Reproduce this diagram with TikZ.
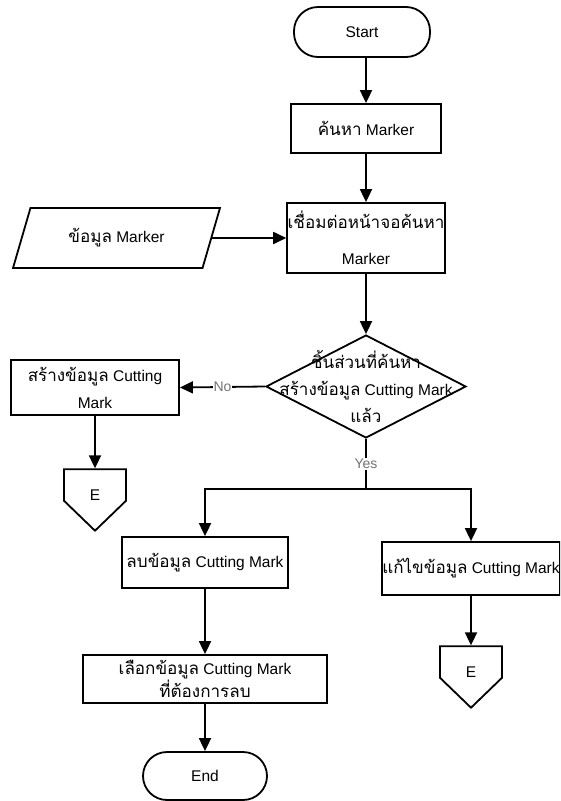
\documentclass[tikz,border=0pt]{standalone}
\usepackage{fontspec}
\setmainfont{Liberation Sans}
\newfontfamily\thaifont[Script=Thai,Scale=1.1]{Loma}
\usetikzlibrary{arrows.meta,shapes.geometric,shapes.symbols}
\definecolor{LabelClr}{gray}{0.45}
\newcommand{\tha}[1]{{\thaifont #1}}

\begin{document}
\begin{tikzpicture}[x=1pt,y=-1pt,line width=1.8pt,
  shapebase/.style={draw=black,fill=white,align=center,inner sep=0.5pt,
    font=\fontsize{15.5}{27}\selectfont},
  termbox/.style={shapebase,rectangle,rounded corners=24pt},
  procbox/.style={shapebase,rectangle},
  databox/.style={shapebase,trapezium,trapezium stretches=true,
    trapezium left angle=63.43,trapezium right angle=116.57},
  decbox/.style={shapebase,diamond,inner sep=0pt},
  offpage/.style={shapebase,signal,signal to=south,signal from=nowhere,
    signal pointer angle=92,minimum width=62pt,minimum height=32pt,
    label={[yshift=-10pt,font=\fontsize{15.5}{18}\selectfont]center:E}},
  flow/.style={-{Triangle[length=13pt,width=12pt]}},
  answer/.style={fill=white,text=LabelClr,inner sep=1pt,
    font=\fontsize{14}{16}\selectfont}]
\path[use as bounding box,clip] (0,0) rectangle (560,801);

\node[termbox,minimum width=136pt,minimum height=50pt] (start) at (362,32) {Start};
\node[procbox,minimum width=150pt,minimum height=49pt] (find) at (366,128.5)
  {\tha{ค้นหา} Marker};
\node[procbox,minimum width=148pt,minimum height=70pt] (connect) at (366,238)
  {\tha{เชื่อมต่อหน้าจอค้นหา}\\[9pt]Marker};
\node[databox,minimum width=207pt,minimum height=60pt] (data) at (116.5,238)
  {\tha{ข้อมูล} Marker};
\node[decbox,minimum width=200pt,minimum height=103pt,
  label={[align=center,font=\fontsize{15.5}{27}\selectfont]center:
    \tha{ชิ้นส่วนที่ค้นหา}\\\tha{สร้างข้อมูล} Cutting Mark\\\tha{แล้ว}}]
  (decide) at (366,386.5) {};
\node[procbox,minimum width=168pt,minimum height=55pt] (create) at (95,387.5)
  {\tha{สร้างข้อมูล} Cutting\\Mark};
\node[offpage] (e1) at (95,485) {};
\node[procbox,minimum width=166pt,minimum height=51pt] (delete) at (205,562.5)
  {\tha{ลบข้อมูล} Cutting Mark};
\node[procbox,minimum width=178pt,minimum height=53pt] (edit) at (471,568.5)
  {\tha{แก้ไขข้อมูล} Cutting Mark};
\node[offpage] (e2) at (471,662) {};
\node[procbox,minimum width=244pt,minimum height=48pt,
  font=\fontsize{15.5}{21}\selectfont] (select) at (205,679)
  {\tha{เลือกข้อมูล} Cutting Mark\\\tha{ที่ต้องการลบ}};
\node[termbox,minimum width=124pt,minimum height=48pt] (end) at (205,776) {End};
\coordinate (split) at (366,489);

\draw[flow] (start.south -| find) -- (find.north);
\draw[flow] (find.south) -- (connect.north);
\draw[flow] (data.east) -- (connect.west);
\draw[flow] (connect.south) -- (decide.north);
\draw[flow] (decide.west) -- node[answer] {No} (create.east);
\draw[flow] (create.south) -- (e1.north);
% yes branch splits in two
\draw (decide.south) -- node[answer] {Yes} (split);
\draw[flow] (split) -| (delete.north);
\draw[flow] (split) -| (edit.north);
\draw[flow] (delete.south) -- (select.north);
\draw[flow] (select.south) -- (end.north);
\draw[flow] (edit.south) -- (e2.north);

\end{tikzpicture}
\end{document}
